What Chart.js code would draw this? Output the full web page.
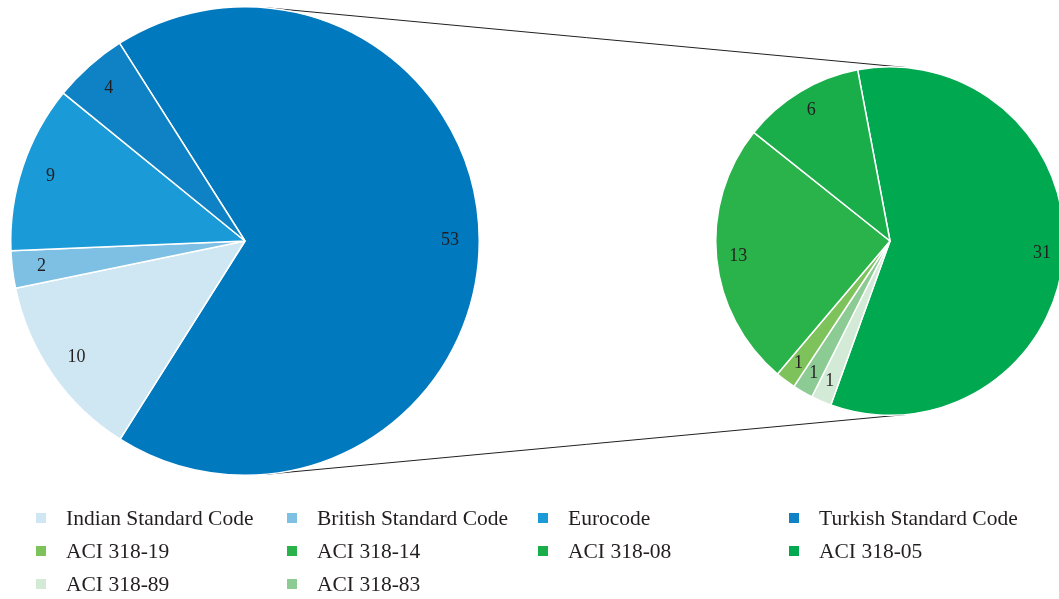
<!DOCTYPE html>
<html>
<head>
<meta charset="utf-8">
<script src="https://cdn.jsdelivr.net/npm/chart.js@4/dist/chart.umd.min.js"></script>
<style>
  html, body { margin: 0; padding: 0; background: #fff; overflow: hidden; }
  #page { position: relative; width: 1059px; height: 599px; overflow: hidden; }
  #leftWrap { position: absolute; left: 5px; top: 1px; width: 480px; height: 480px; }
  #rightWrap { position: absolute; left: 710px; top: 61px; width: 360px; height: 360px; }
  #links { position: absolute; left: 0; top: 0; pointer-events: none; }
  #legend { position: absolute; left: 36px; top: 504px; width: 1020px;
    display: grid; grid-template-columns: repeat(4, 251px); row-gap: 5px;
    font-family: "Liberation Serif", "DejaVu Serif", serif; font-size: 21.5px; color: #231f20; }
  .item { display: flex; align-items: center; height: 28px; }
  .box { width: 10px; height: 10px; margin-right: 20px; }
</style>
</head>
<body>
<div id="page">
  <canvas id="links" width="1059" height="599"></canvas>
  <div id="leftWrap"><canvas id="leftChart"></canvas></div>
  <div id="rightWrap"><canvas id="rightChart"></canvas></div>
  <div id="legend"></div>
</div>
<script>
// Main pie: codes other than ACI
const primaryLabels = ['Indian Standard Code', 'British Standard Code', 'Eurocode', 'Turkish Standard Code'];
const primaryValues = [10, 2, 9, 4];
const primaryColors = ['#cfe6f3', '#7dc0e4', '#1a9ad6', '#0f82c5'];

// ACI editions (split out in the second pie)
const aciLabels = ['ACI 318-19', 'ACI 318-14', 'ACI 318-08', 'ACI 318-05', 'ACI 318-89', 'ACI 318-83'];
const aciValues = [1, 13, 6, 31, 1, 1];
const aciColors = ['#7dc25a', '#2ab24b', '#1aae4b', '#00a94f', '#d3ead7', '#8dcb95'];

// order the slices are drawn clockwise in the second pie
const aciDrawOrder = ['ACI 318-05', 'ACI 318-89', 'ACI 318-83', 'ACI 318-19', 'ACI 318-14', 'ACI 318-08'];
const aciGroupColor = '#0079bf';

const labelFont = '18px "Liberation Serif", "DejaVu Serif", serif';

/**
 * Writes each slice's value inside the slice, near the rim
 */
const sliceValues = {
  id: 'sliceValues',
  afterDatasetsDraw(chart) {
    const ctx = chart.ctx;
    const meta = chart.getDatasetMeta(0);
    const values = chart.data.datasets[0].data;
    ctx.save();
    ctx.font = labelFont;
    ctx.fillStyle = '#231f20';
    ctx.textAlign = 'center';
    ctx.textBaseline = 'middle';
    meta.data.forEach((arc, i) => {
      const p = arc.getProps(['x', 'y', 'startAngle', 'endAngle', 'outerRadius'], true);
      const mid = (p.startAngle + p.endAngle) / 2;
      const r = p.outerRadius * 0.875;
      ctx.fillText(String(values[i]), p.x + Math.cos(mid) * r, p.y + Math.sin(mid) * r);
    });
    ctx.restore();
  }
};

function sum(arr) {
  return arr.reduce((a, b) => a + b, 0);
}

function pieOptions(rotation) {
  return {
    responsive: true,
    maintainAspectRatio: false,
    animation: false,
    rotation: rotation,
    layout: { padding: 5 },
    plugins: { legend: { display: false }, tooltip: { enabled: false } }
  };
}

const aciSorted = aciDrawOrder.map(name => aciLabels.indexOf(name));

const rightChart = new Chart(document.getElementById('rightChart'), {
  type: 'pie',
  data: {
    labels: aciSorted.map(i => aciLabels[i]),
    datasets: [{
      data: aciSorted.map(i => aciValues[i]),
      backgroundColor: aciSorted.map(i => aciColors[i]),
      borderColor: '#ffffff',
      borderWidth: 1.5
    }]
  },
  options: pieOptions(-10.7),
  plugins: [sliceValues]
});

const leftChart = new Chart(document.getElementById('leftChart'), {
  type: 'pie',
  data: {
    labels: ['ACI'].concat(primaryLabels),
    datasets: [{
      data: [sum(aciValues)].concat(primaryValues),
      backgroundColor: [aciGroupColor].concat(primaryColors),
      borderColor: '#ffffff',
      borderWidth: 1.5
    }]
  },
  options: pieOptions(-32.4),
  plugins: [sliceValues]
});

/**
 * Draw the two outer tangent lines joining the pies
 */
function drawLinks() {
  const canvas = document.getElementById('links');
  const page = document.getElementById('page').getBoundingClientRect();
  const ctx = canvas.getContext('2d');
  ctx.clearRect(0, 0, canvas.width, canvas.height);

  function circleOf(chart) {
    const arc = chart.getDatasetMeta(0).data[0];
    const box = chart.canvas.getBoundingClientRect();
    return { x: box.left - page.left + arc.x, y: box.top - page.top + arc.y, r: arc.outerRadius };
  }
  const a = circleOf(leftChart);
  const b = circleOf(rightChart);
  const d = Math.hypot(b.x - a.x, b.y - a.y);
  const theta = Math.atan2(b.y - a.y, b.x - a.x);
  const alpha = Math.acos((a.r - b.r) / d);

  ctx.strokeStyle = '#231f20';
  ctx.lineWidth = 1;
  [theta - alpha, theta + alpha].forEach(phi => {
    ctx.beginPath();
    ctx.moveTo(a.x + a.r * Math.cos(phi), a.y + a.r * Math.sin(phi));
    ctx.lineTo(b.x + b.r * Math.cos(phi), b.y + b.r * Math.sin(phi));
    ctx.stroke();
  });
}
drawLinks();

// Legend grid, built from the data arrays
const legendNames = primaryLabels.concat(aciLabels);
const legendColors = primaryColors.concat(aciColors);
const legend = document.getElementById('legend');
legendNames.forEach((name, i) => {
  const item = document.createElement('div');
  item.className = 'item';
  const box = document.createElement('span');
  box.className = 'box';
  box.style.background = legendColors[i];
  const text = document.createElement('span');
  text.textContent = name;
  item.appendChild(box);
  item.appendChild(text);
  legend.appendChild(item);
});
</script>
</body>
</html>
